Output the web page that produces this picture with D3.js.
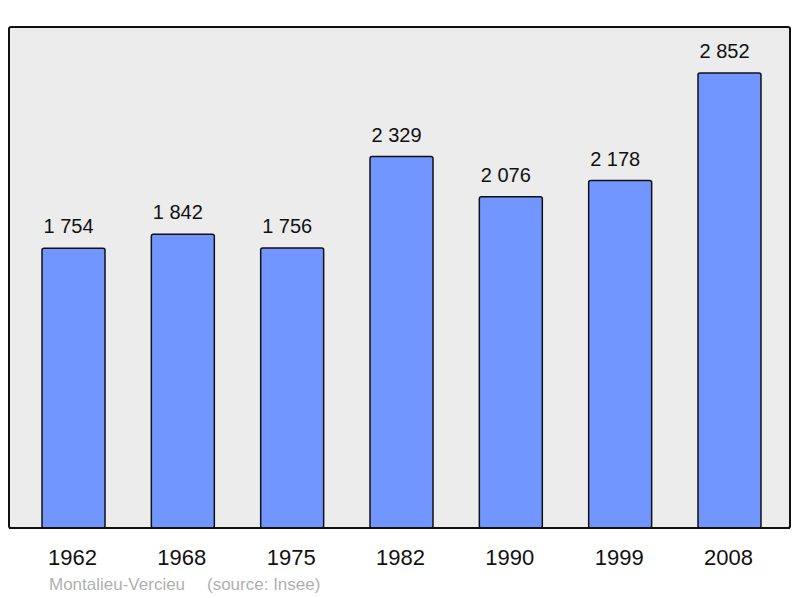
<!DOCTYPE html>
<html><head><meta charset="utf-8">
<script src="https://cdn.jsdelivr.net/npm/d3@7"></script>
<style>body{margin:0;background:#fff}svg{display:block;font-family:"Liberation Sans",Arial,sans-serif}</style>
</head><body>
<script>
const years = ["1962","1968","1975","1982","1990","1999","2008"];
const population = [1754, 1842, 1756, 2329, 2076, 2178, 2852];
const valueLabels = ["1 754","1 842","1 756","2 329","2 076","2 178","2 852"];
const commune = "Montalieu-Vercieu";
const source = "(source: Insee)";

const W = 800, H = 598;
const svg = d3.select("body").append("svg").attr("width", W).attr("height", H);

const frame = {x0: 9, y0: 27, x1: 790, y1: 528};
svg.append("rect").attr("x", frame.x0).attr("y", frame.y0)
  .attr("width", frame.x1 - frame.x0).attr("height", frame.y1 - frame.y0)
  .attr("rx", 2).attr("fill", "#ececec").attr("stroke", "#111").attr("stroke-width", 2);

const x = d3.scaleBand().domain(years).range([9, 794]).paddingInner(0.424).paddingOuter(0.302);
const y = d3.scaleLinear().domain([0, 3141]).range([528, 27]);

const data = years.map((yr, i) => ({yr, v: population[i], lab: valueLabels[i]}));

svg.selectAll("rect.bar").data(data).join("rect").attr("class", "bar")
  .attr("x", d => x(d.yr)).attr("y", d => y(d.v))
  .attr("width", x.bandwidth()).attr("height", d => y(0) - y(d.v))
  .attr("rx", 2).attr("fill", "#7196ff").attr("stroke", "#111").attr("stroke-width", 1.5);

svg.selectAll("text.val").data(data).join("text").attr("class", "val")
  .attr("x", d => x(d.yr) + x.bandwidth() / 2 - 5).attr("y", d => y(d.v) - 15)
  .attr("text-anchor", "middle").attr("font-size", 20).attr("fill", "#111")
  .text(d => d.lab);

svg.selectAll("text.yr").data(data).join("text").attr("class", "yr")
  .attr("x", d => x(d.yr) + x.bandwidth() / 2 - 1).attr("y", 565)
  .attr("text-anchor", "middle").attr("font-size", 22).attr("fill", "#111")
  .text(d => d.yr);

svg.append("line").attr("x1", frame.x0).attr("x2", frame.x1).attr("y1", frame.y1).attr("y2", frame.y1)
  .attr("stroke", "#111").attr("stroke-width", 2);

svg.append("text").attr("x", 49).attr("y", 590).attr("font-size", 17).attr("fill", "#b0b0b0").text(commune);
svg.append("text").attr("x", 207).attr("y", 590).attr("font-size", 17).attr("fill", "#b0b0b0").text(source);
</script>
</body></html>
